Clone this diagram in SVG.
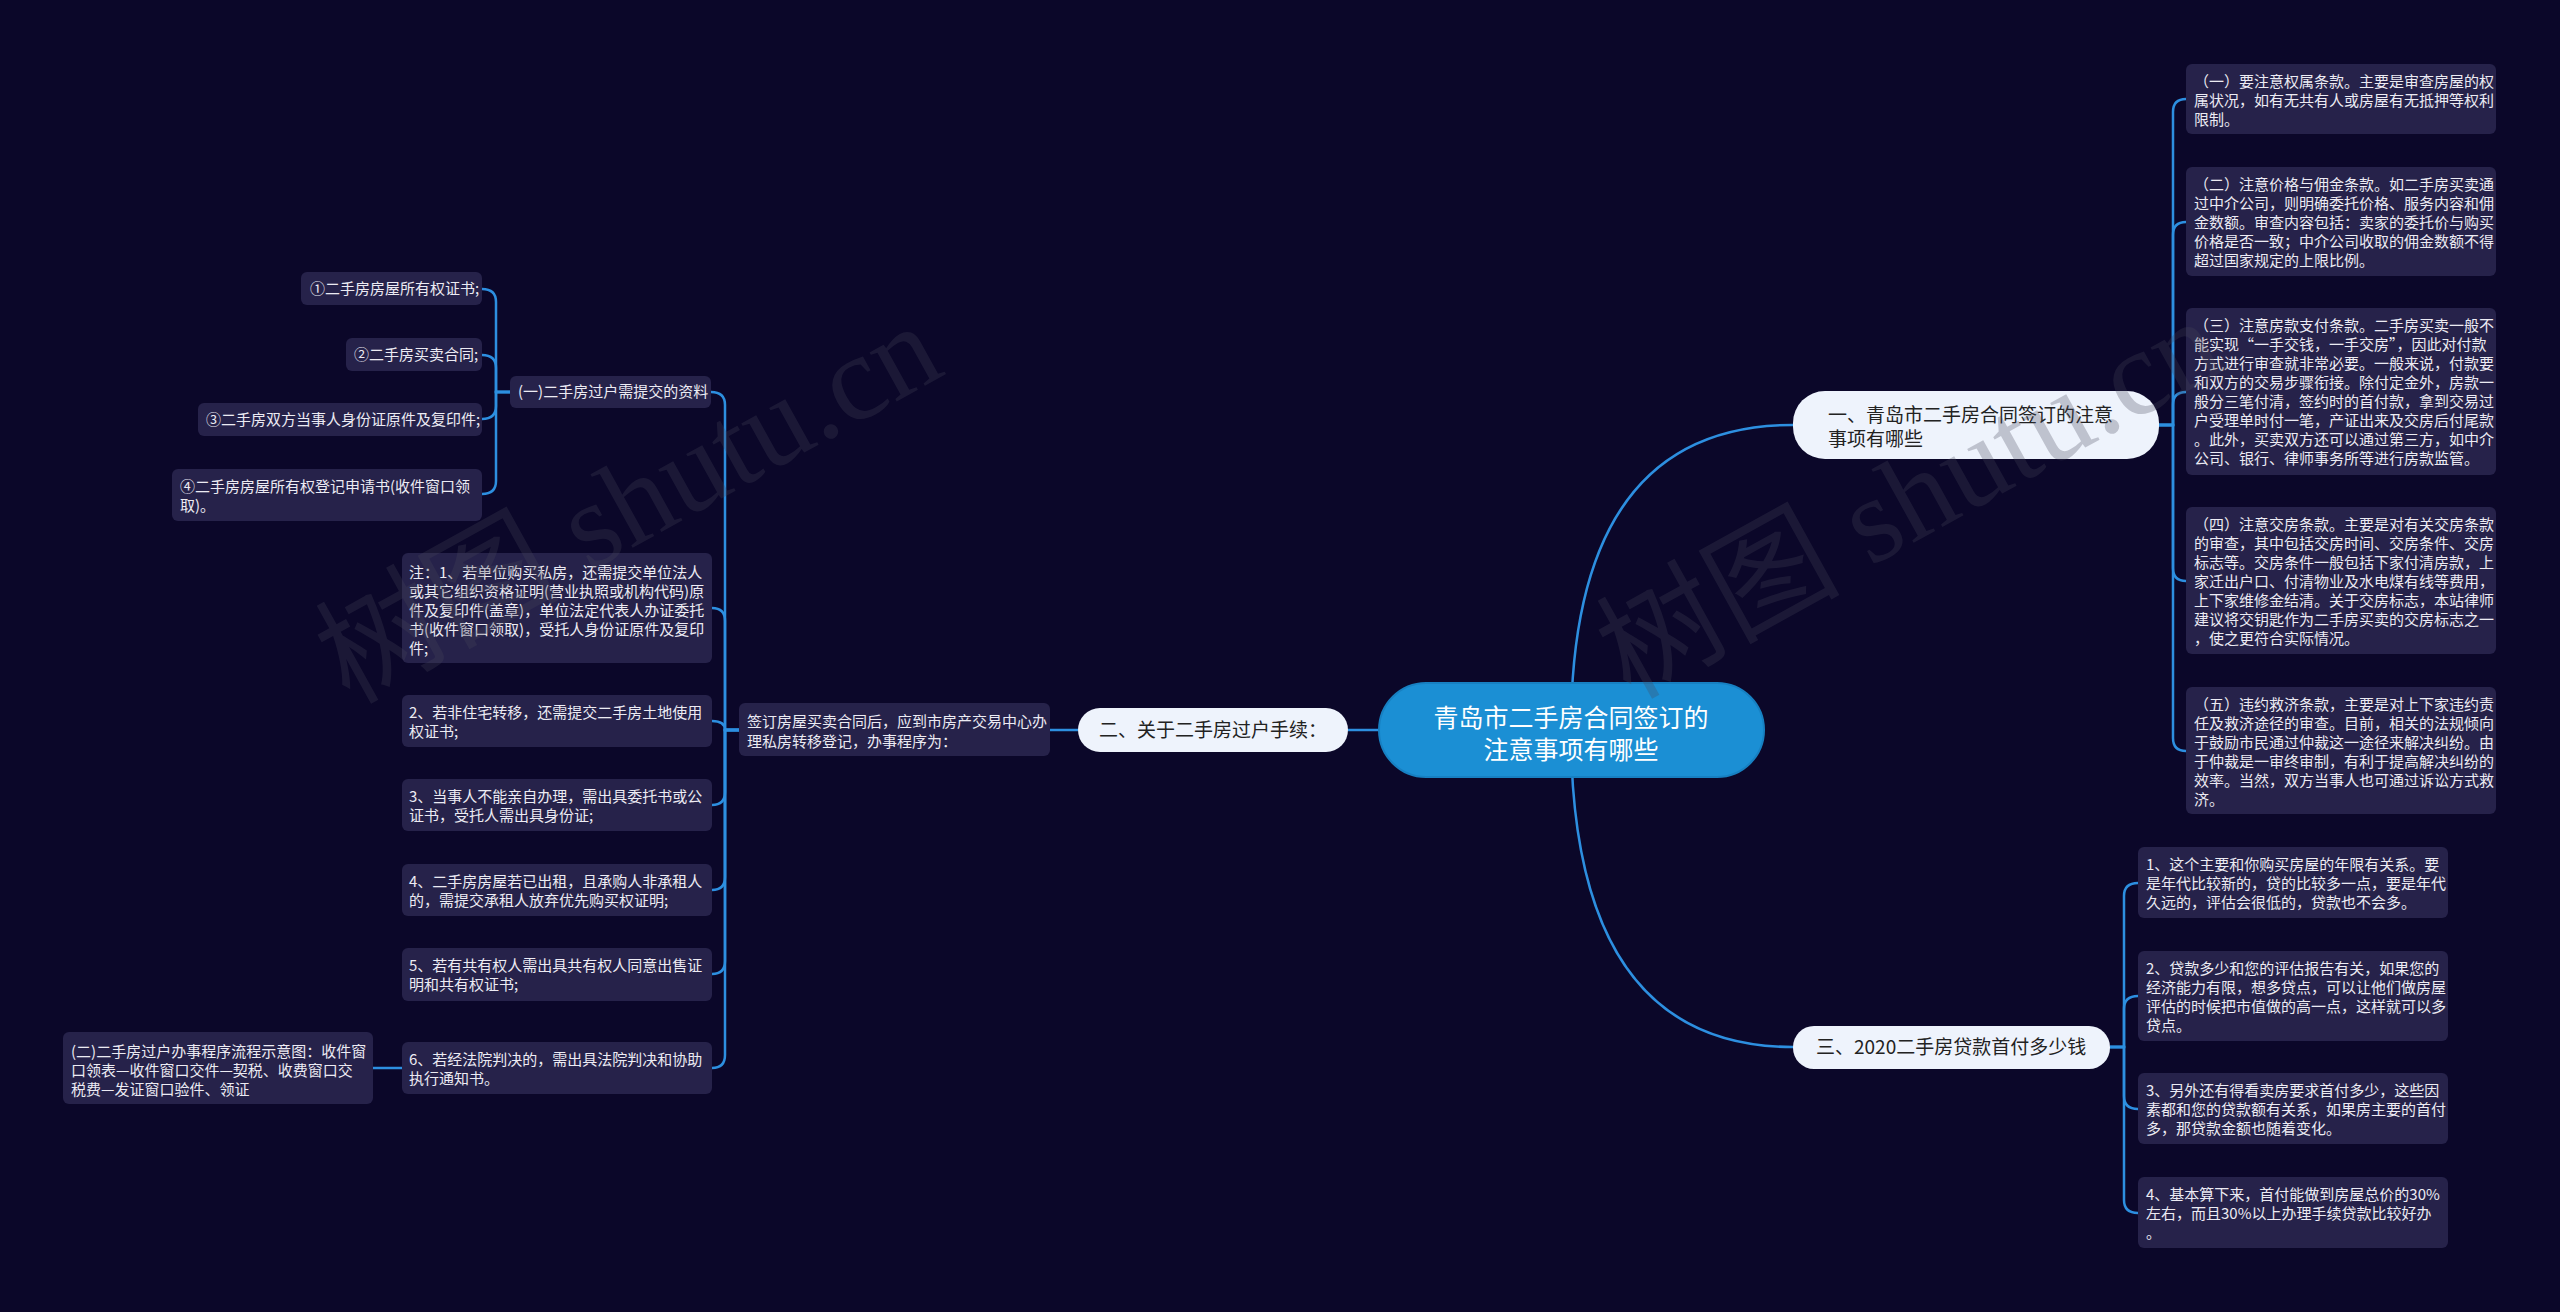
<svg xmlns="http://www.w3.org/2000/svg" width="2560" height="1312" viewBox="0 0 2560 1312">
<style>
text{font-family:"Noto Sans CJK SC","Liberation Sans",sans-serif;}
.nr{fill:#26224a;}
.nt{fill:#ecebf3;font-size:15px;}
.br{fill:#eef3fc;}
.bt{fill:#222;font-size:19px;}
.cr{fill:#1b8fd4;stroke:#1780c2;stroke-width:2;}
.ct{fill:#fff;font-size:25px;text-anchor:middle;}
.lk path{stroke:#2d8fe0;stroke-width:2.5;fill:none;}
.wm{font-family:"Liberation Serif","Noto Sans CJK SC",serif;font-size:122px;fill:#46465a;opacity:0.28;}
</style>
<rect x="0" y="0" width="2560" height="1312" fill="#0b0729"/>
<g id="connectors" class="lk">
<path d="M1571 730 Q1571 425 1793 425"/>
<path d="M1571 730 Q1571 1047 1793 1047"/>
<path d="M1379 730 H1348"/>
<path d="M1078 730 H1050"/>
<path d="M739 730 H725 V405 Q725 392 711 392"/>
<path d="M739 730 H725 V621 Q725 608 712 608"/>
<path d="M739 730 H725 Q725 721 712 721"/>
<path d="M739 730 H725 V792 Q725 805 712 805"/>
<path d="M739 730 H725 V877 Q725 890 712 890"/>
<path d="M739 730 H725 V961 Q725 974 712 974"/>
<path d="M739 730 H725 V1055 Q725 1068 712 1068"/>
<path d="M510 392 H496 V302 Q496 289 482 289"/>
<path d="M510 392 H496 V368 Q496 355 482 355"/>
<path d="M510 392 H496 V406 Q496 419 482 419"/>
<path d="M510 392 H496 V481 Q496 494 482 494"/>
<path d="M402 1068 H373"/>
<path d="M2159 425 H2173 V112 Q2173 99 2186 99"/>
<path d="M2159 425 H2173 V235 Q2173 222 2186 222"/>
<path d="M2159 425 H2173 V405 Q2173 392 2186 392"/>
<path d="M2159 425 H2173 V568 Q2173 581 2186 581"/>
<path d="M2159 425 H2173 V738 Q2173 751 2186 751"/>
<path d="M2110 1047 H2124 V896 Q2124 883 2138 883"/>
<path d="M2110 1047 H2124 V1009 Q2124 996 2138 996"/>
<path d="M2110 1047 H2124 V1096 Q2124 1109 2138 1109"/>
<path d="M2110 1047 H2124 V1200 Q2124 1213 2138 1213"/>
</g>
<g id="center">
<rect class="cr" x="1379" y="683" width="385" height="94" rx="47"/>
<text class="ct"><tspan x="1571" y="727">青岛市二手房合同签订的</tspan><tspan x="1571" y="759">注意事项有哪些</tspan></text>
</g>
<g id="branch1">
<rect class="br" x="1793" y="391" width="366" height="68" rx="32"/>
<text class="bt"><tspan x="1828" y="422">一、青岛市二手房合同签订的注意</tspan><tspan x="1828" y="446">事项有哪些</tspan></text>
</g>
<g id="branch2">
<rect class="br" x="1078" y="708" width="270" height="44" rx="22"/>
<text class="bt"><tspan x="1099" y="737">二、关于二手房过户手续：</tspan></text>
</g>
<g id="branch3">
<rect class="br" x="1793" y="1026" width="317" height="43" rx="21"/>
<text class="bt"><tspan x="1816" y="1054">三、2020二手房贷款首付多少钱</tspan></text>
</g>
<g id="b1-1">
<rect class="nr" x="2186" y="64" width="310" height="70" rx="6"/>
<text class="nt"><tspan x="2194" y="87">（一）要注意权属条款。主要是审查房屋的权</tspan><tspan x="2194" y="106">属状况，如有无共有人或房屋有无抵押等权利</tspan><tspan x="2194" y="125">限制。</tspan></text>
</g>
<g id="b1-2">
<rect class="nr" x="2186" y="167" width="310" height="109" rx="6"/>
<text class="nt"><tspan x="2194" y="190">（二）注意价格与佣金条款。如二手房买卖通</tspan><tspan x="2194" y="209">过中介公司，则明确委托价格、服务内容和佣</tspan><tspan x="2194" y="228">金数额。审查内容包括：卖家的委托价与购买</tspan><tspan x="2194" y="247">价格是否一致；中介公司收取的佣金数额不得</tspan><tspan x="2194" y="266">超过国家规定的上限比例。</tspan></text>
</g>
<g id="b1-3">
<rect class="nr" x="2186" y="308" width="310" height="167" rx="6"/>
<text class="nt"><tspan x="2194" y="331">（三）注意房款支付条款。二手房买卖一般不</tspan><tspan x="2194" y="350">能实现“一手交钱，一手交房”，因此对付款</tspan><tspan x="2194" y="369">方式进行审查就非常必要。一般来说，付款要</tspan><tspan x="2194" y="388">和双方的交易步骤衔接。除付定金外，房款一</tspan><tspan x="2194" y="407">般分三笔付清，签约时的首付款，拿到交易过</tspan><tspan x="2194" y="426">户受理单时付一笔，产证出来及交房后付尾款</tspan><tspan x="2194" y="445">。此外，买卖双方还可以通过第三方，如中介</tspan><tspan x="2194" y="464">公司、银行、律师事务所等进行房款监管。</tspan></text>
</g>
<g id="b1-4">
<rect class="nr" x="2186" y="507" width="310" height="147" rx="6"/>
<text class="nt"><tspan x="2194" y="530">（四）注意交房条款。主要是对有关交房条款</tspan><tspan x="2194" y="549">的审查，其中包括交房时间、交房条件、交房</tspan><tspan x="2194" y="568">标志等。交房条件一般包括下家付清房款，上</tspan><tspan x="2194" y="587">家迁出户口、付清物业及水电煤有线等费用，</tspan><tspan x="2194" y="606">上下家维修金结清。关于交房标志，本站律师</tspan><tspan x="2194" y="625">建议将交钥匙作为二手房买卖的交房标志之一</tspan><tspan x="2194" y="644">，使之更符合实际情况。</tspan></text>
</g>
<g id="b1-5">
<rect class="nr" x="2186" y="687" width="310" height="127" rx="6"/>
<text class="nt"><tspan x="2194" y="710">（五）违约救济条款，主要是对上下家违约责</tspan><tspan x="2194" y="729">任及救济途径的审查。目前，相关的法规倾向</tspan><tspan x="2194" y="748">于鼓励市民通过仲裁这一途径来解决纠纷。由</tspan><tspan x="2194" y="767">于仲裁是一审终审制，有利于提高解决纠纷的</tspan><tspan x="2194" y="786">效率。当然，双方当事人也可通过诉讼方式救</tspan><tspan x="2194" y="805">济。</tspan></text>
</g>
<g id="b3-1">
<rect class="nr" x="2138" y="847" width="310" height="71" rx="6"/>
<text class="nt"><tspan x="2146" y="870">1、这个主要和你购买房屋的年限有关系。要</tspan><tspan x="2146" y="889">是年代比较新的，贷的比较多一点，要是年代</tspan><tspan x="2146" y="908">久远的，评估会很低的，贷款也不会多。</tspan></text>
</g>
<g id="b3-2">
<rect class="nr" x="2138" y="951" width="310" height="90" rx="6"/>
<text class="nt"><tspan x="2146" y="974">2、贷款多少和您的评估报告有关，如果您的</tspan><tspan x="2146" y="993">经济能力有限，想多贷点，可以让他们做房屋</tspan><tspan x="2146" y="1012">评估的时候把市值做的高一点，这样就可以多</tspan><tspan x="2146" y="1031">贷点。</tspan></text>
</g>
<g id="b3-3">
<rect class="nr" x="2138" y="1073" width="310" height="71" rx="6"/>
<text class="nt"><tspan x="2146" y="1096">3、另外还有得看卖房要求首付多少，这些因</tspan><tspan x="2146" y="1115">素都和您的贷款额有关系，如果房主要的首付</tspan><tspan x="2146" y="1134">多，那贷款金额也随着变化。</tspan></text>
</g>
<g id="b3-4">
<rect class="nr" x="2138" y="1177" width="310" height="71" rx="6"/>
<text class="nt"><tspan x="2146" y="1200">4、基本算下来，首付能做到房屋总价的30%</tspan><tspan x="2146" y="1219">左右，而且30%以上办理手续贷款比较好办</tspan><tspan x="2146" y="1238">。</tspan></text>
</g>
<g id="b2-0">
<rect class="nr" x="739" y="703" width="311" height="53" rx="6"/>
<text class="nt"><tspan x="747" y="727">签订房屋买卖合同后，应到市房产交易中心办</tspan><tspan x="747" y="747">理私房转移登记，办事程序为：</tspan></text>
</g>
<g id="b2-1">
<rect class="nr" x="510" y="376" width="201" height="32" rx="6"/>
<text class="nt"><tspan x="518" y="397">(一)二手房过户需提交的资料</tspan></text>
</g>
<g id="b2-1-1">
<rect class="nr" x="301" y="272" width="181" height="33" rx="6"/>
<text class="nt"><tspan x="310" y="294">①二手房房屋所有权证书;</tspan></text>
</g>
<g id="b2-1-2">
<rect class="nr" x="346" y="338" width="136" height="33" rx="6"/>
<text class="nt"><tspan x="354" y="360">②二手房买卖合同;</tspan></text>
</g>
<g id="b2-1-3">
<rect class="nr" x="198" y="403" width="284" height="33" rx="6"/>
<text class="nt"><tspan x="206" y="425">③二手房双方当事人身份证原件及复印件;</tspan></text>
</g>
<g id="b2-1-4">
<rect class="nr" x="172" y="469" width="310" height="52" rx="6"/>
<text class="nt"><tspan x="180" y="492">④二手房房屋所有权登记申请书(收件窗口领</tspan><tspan x="180" y="511">取)。</tspan></text>
</g>
<g id="b2-2">
<rect class="nr" x="402" y="553" width="310" height="110" rx="6"/>
<text class="nt"><tspan x="409" y="578">注：1、若单位购买私房，还需提交单位法人</tspan><tspan x="409" y="597">或其它组织资格证明(营业执照或机构代码)原</tspan><tspan x="409" y="616">件及复印件(盖章)，单位法定代表人办证委托</tspan><tspan x="409" y="635">书(收件窗口领取)，受托人身份证原件及复印</tspan><tspan x="409" y="654">件;</tspan></text>
</g>
<g id="b2-3">
<rect class="nr" x="402" y="695" width="310" height="52" rx="6"/>
<text class="nt"><tspan x="409" y="718">2、若非住宅转移，还需提交二手房土地使用</tspan><tspan x="409" y="737">权证书;</tspan></text>
</g>
<g id="b2-4">
<rect class="nr" x="402" y="779" width="310" height="52" rx="6"/>
<text class="nt"><tspan x="409" y="802">3、当事人不能亲自办理，需出具委托书或公</tspan><tspan x="409" y="821">证书，受托人需出具身份证;</tspan></text>
</g>
<g id="b2-5">
<rect class="nr" x="402" y="864" width="310" height="52" rx="6"/>
<text class="nt"><tspan x="409" y="887">4、二手房房屋若已出租，且承购人非承租人</tspan><tspan x="409" y="906">的，需提交承租人放弃优先购买权证明;</tspan></text>
</g>
<g id="b2-6">
<rect class="nr" x="402" y="948" width="310" height="53" rx="6"/>
<text class="nt"><tspan x="409" y="971">5、若有共有权人需出具共有权人同意出售证</tspan><tspan x="409" y="990">明和共有权证书;</tspan></text>
</g>
<g id="b2-7">
<rect class="nr" x="402" y="1042" width="310" height="52" rx="6"/>
<text class="nt"><tspan x="409" y="1065">6、若经法院判决的，需出具法院判决和协助</tspan><tspan x="409" y="1084">执行通知书。</tspan></text>
</g>
<g id="b2-7-1">
<rect class="nr" x="63" y="1032" width="310" height="72" rx="6"/>
<text class="nt"><tspan x="71" y="1057">(二)二手房过户办事程序流程示意图：收件窗</tspan><tspan x="71" y="1076">口领表—收件窗口交件—契税、收费窗口交</tspan><tspan x="71" y="1095">税费—发证窗口验件、领证</tspan></text>
</g>
<g id="watermarks">
<text class="wm" x="349" y="705" transform="rotate(-29 349 705)">树图 shutu.cn</text>
<text class="wm" x="1630" y="700" transform="rotate(-29 1630 700)">树图 shutu.cn</text>
</g>
</svg>
